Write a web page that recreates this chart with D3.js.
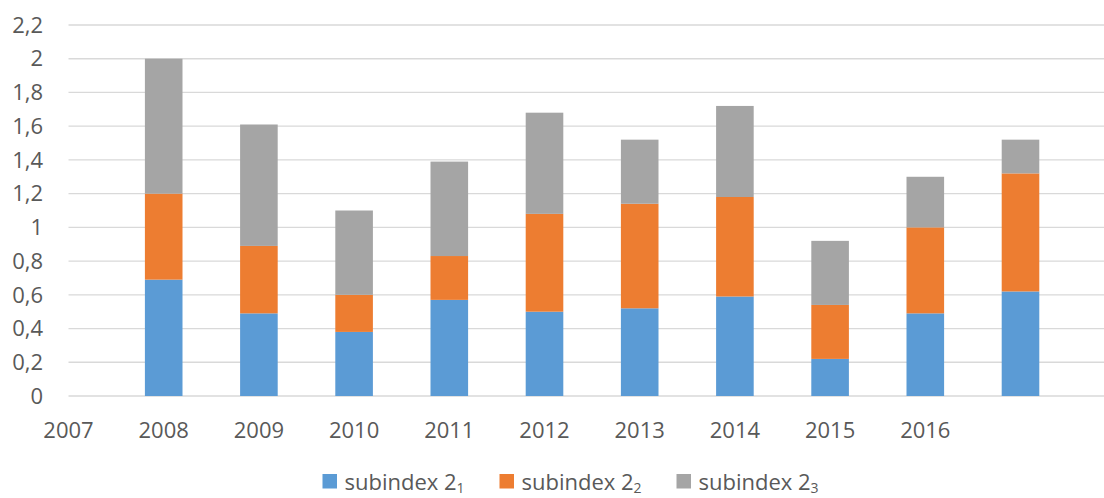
<!DOCTYPE html>
<html>
<head>
<meta charset="utf-8">
<script src="https://cdn.jsdelivr.net/npm/d3@7"></script>
<style>
  body { margin: 0; background: #fff; }
  text { font-family: "Open Sans", sans-serif; fill: #595959; }
</style>
</head>
<body>
<div id="chart"></div>
<script>
const years = [2008, 2009, 2010, 2011, 2012, 2013, 2014, 2015, 2016, 2017];
const subindex1 = [0.69, 0.49, 0.38, 0.57, 0.50, 0.52, 0.59, 0.22, 0.49, 0.62];
const subindex2 = [0.51, 0.40, 0.22, 0.26, 0.58, 0.62, 0.59, 0.32, 0.51, 0.70];
const subindex3 = [0.80, 0.72, 0.50, 0.56, 0.60, 0.38, 0.54, 0.38, 0.30, 0.20];
const xTickLabels = [2007, 2008, 2009, 2010, 2011, 2012, 2013, 2014, 2015, 2016];
const yTicks = [0, 0.2, 0.4, 0.6, 0.8, 1, 1.2, 1.4, 1.6, 1.8, 2, 2.2];
const seriesNames = ["1", "2", "3"];
const colors = ["#5b9bd5", "#ed7d31", "#a5a5a5"];

const width = 1104;
const height = 498;
const margin = { top: 25, left: 68.5, bottom: 102 };
const step = 95.2;

const x = d3.scaleLinear()
    .domain([2007, 2018])
    .range([margin.left, margin.left + step * 11]);

const y = d3.scaleLinear()
    .domain([0, 2.2])
    .range([height - margin.bottom, margin.top]);

const svg = d3.select("#chart")
    .append("svg")
    .attr("width", width)
    .attr("height", height);

// gridlines
svg.append("g")
    .selectAll("line")
    .data(yTicks)
    .enter()
    .append("line")
    .attr("x1", margin.left)
    .attr("x2", width)
    .attr("y1", d => y(d))
    .attr("y2", d => y(d))
    .attr("stroke", "#d9d9d9")
    .attr("stroke-width", 1.3);

// y labels
const fmt = d => d3.format(".1~f")(d).replace(".", ",");
svg.append("g")
    .selectAll("text")
    .data(yTicks)
    .enter()
    .append("text")
    .attr("x", 43)
    .attr("y", d => y(d))
    .attr("dy", "0.35em")
    .attr("text-anchor", "end")
    .attr("font-size", 22)
    .text(fmt);

// stacked bars
const rows = years.map((yr, i) => ({ year: yr, s1: subindex1[i], s2: subindex2[i], s3: subindex3[i] }));
const stack = d3.stack().keys(["s1", "s2", "s3"])(rows);
const barWidth = 37.6;

svg.append("g")
    .selectAll("g")
    .data(stack)
    .enter()
    .append("g")
    .attr("fill", (d, i) => colors[i])
    .selectAll("rect")
    .data(d => d)
    .enter()
    .append("rect")
    .attr("x", d => x(d.data.year) - barWidth / 2)
    .attr("y", d => y(d[1]))
    .attr("width", barWidth)
    .attr("height", d => y(d[0]) - y(d[1]));

// x labels
svg.append("g")
    .selectAll("text")
    .data(xTickLabels)
    .enter()
    .append("text")
    .attr("x", d => x(d))
    .attr("y", 438)
    .attr("text-anchor", "middle")
    .attr("font-size", 22)
    .text(d => d);

// legend
const legendX = [322.5, 499.5, 676.5];
const legend = svg.append("g")
    .selectAll("g")
    .data(seriesNames)
    .enter()
    .append("g")
    .attr("transform", (d, i) => `translate(${legendX[i]},474)`);

legend.append("rect")
    .attr("width", 14.5)
    .attr("height", 14.5)
    .attr("fill", (d, i) => colors[i]);

const lt = legend.append("text")
    .attr("x", 22)
    .attr("y", 15.5)
    .attr("font-size", 22);
lt.append("tspan").text("subindex 2");
lt.append("tspan")
    .attr("dy", 3)
    .attr("font-size", 14)
    .text(d => d);
</script>
</body>
</html>
